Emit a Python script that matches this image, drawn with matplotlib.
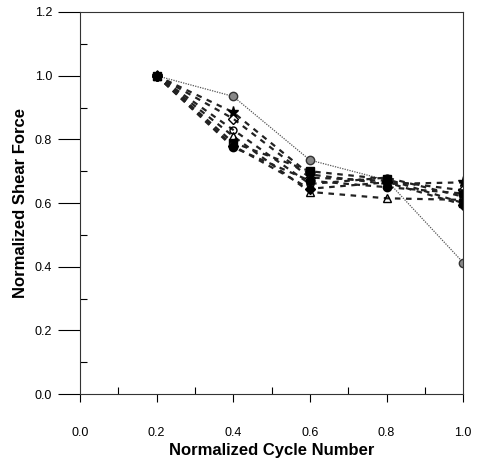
import matplotlib
matplotlib.use('Agg')
import matplotlib.pyplot as plt
from matplotlib.ticker import MultipleLocator, FormatStrFormatter

plt.rcParams['font.family'] = ['Liberation Sans', 'DejaVu Sans']

# normalized cycle number
cycle = [0.2, 0.4, 0.6, 0.8, 1.0]

# solid series (grey circles)
ref_force = [1.0, 0.935, 0.735, 0.672, 0.413]

# dashed series
star_force = [1.0, 0.885, 0.69, 0.66, 0.665]
diam_open = [1.0, 0.865, 0.68, 0.67, 0.64]
circ_open = [1.0, 0.83, 0.66, 0.68, 0.62]
tri_open = [1.0, 0.81, 0.635, 0.615, 0.61]
sq_fill = [1.0, 0.79, 0.70, 0.675, 0.60]
circ_fill = [1.0, 0.775, 0.67, 0.65, 0.63]
diam_fill = [1.0, 0.78, 0.645, 0.665, 0.595]

fig = plt.figure(figsize=(4.81, 4.61), dpi=100)
ax = fig.add_axes([0.166, 0.145, 0.797, 0.829])

ax.plot(cycle, ref_force, color='#555555', lw=0.9, ls=(0, (1, 1)),
        marker='o', ms=6, mfc='#888888', mec='#333333')

dashed = [
    (star_force, '*', 'k', 8),
    (diam_open, 'D', 'none', 5),
    (circ_open, 'o', 'none', 5),
    (tri_open, '^', 'none', 6),
    (sq_fill, 's', 'k', 6),
    (circ_fill, 'o', 'k', 6),
    (diam_fill, 'D', 'k', 5),
]
for vals, mk, fc, ms in dashed:
    ax.plot(cycle, vals, color='#222222', lw=1.6, ls=(0, (2.5, 2.5)),
            marker=mk, ms=ms, mfc=fc, mec='k', mew=1.0)

ax.set_xlim(0, 1.0)
ax.set_ylim(0, 1.2)
ax.xaxis.set_major_locator(MultipleLocator(0.2))
ax.xaxis.set_minor_locator(MultipleLocator(0.1))
ax.yaxis.set_major_locator(MultipleLocator(0.2))
ax.yaxis.set_minor_locator(MultipleLocator(0.1))
ax.xaxis.set_major_formatter(FormatStrFormatter('%.1f'))
ax.yaxis.set_major_formatter(FormatStrFormatter('%.1f'))
ax.tick_params(axis='x', which='major', direction='out', length=6, width=0.8,
               labelsize=9, pad=18)
ax.tick_params(axis='y', which='major', direction='out', length=16, width=0.8,
               labelsize=9, pad=4)
ax.tick_params(which='minor', direction='in', length=5, width=0.8)
for s in ax.spines.values():
    s.set_linewidth(0.8)
    s.set_color('#333333')

ax.set_xlabel('Normalized Cycle Number', fontsize=12, fontweight='bold')
ax.set_ylabel('Normalized Shear Force', fontsize=12, fontweight='bold')
ax.xaxis.set_label_coords(0.5, -0.127)
ax.yaxis.set_label_coords(-0.135, 0.5)

fig.savefig('out.png', dpi=100)
